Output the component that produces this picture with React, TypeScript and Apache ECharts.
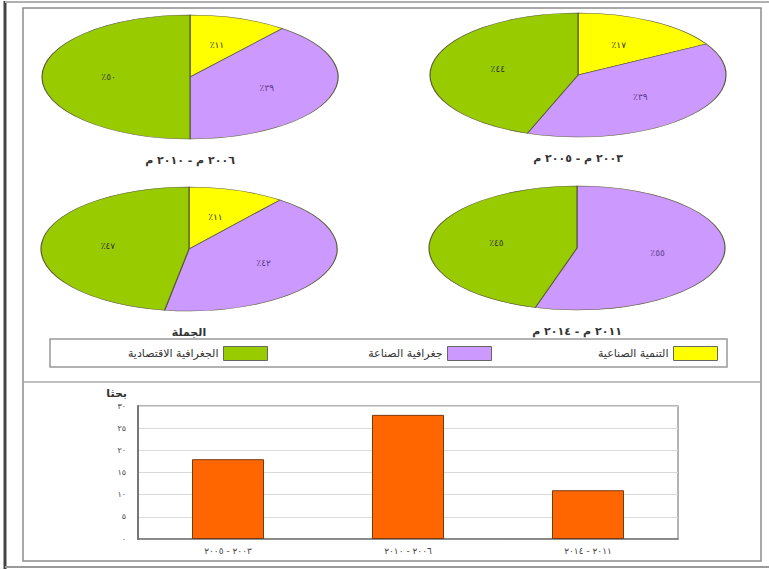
import React, { useEffect, useRef } from 'react';
import * as echarts from 'echarts';

// ---- data ----
const topics = ['التنمية الصناعية', 'جغرافية الصناعة', 'الجغرافية الاقتصادية'];
const topicColors = ['#FFFF00', '#CC99FF', '#99CC00'];
const pieTitles = ['٢٠٠٦ م - ٢٠١٠ م', '٢٠٠٣ م - ٢٠٠٥ م', 'الجملة', '٢٠١١ م - ٢٠١٤ م'];
// counts of research papers per pie (same order as pieTitles)
const industrialDevelopment = [3, 3, 6, 0];
const industrialGeography = [11, 7, 24, 6];
const economicGeography = [14, 8, 27, 5];

const barCategories = ['٢٠٠٣ - ٢٠٠٥', '٢٠٠٦ - ٢٠١٠', '٢٠١١ - ٢٠١٤'];
const barValues = [18, 28, 11];
const yAxisName = 'بحثا';

// ---- layout ----
const pieCenters = [
  [190, 77],
  [578, 75],
  [189, 249],
  [577, 248],
];
const pieRx = 148;
const pieRy = 62;
const titleOffset = 83;
const FONT = 'DejaVu Sans';

const toArabicDigits = (n: number | string) =>
  String(n).replace(/[0-9]/g, (d) => '٠١٢٣٤٥٦٧٨٩'[Number(d)]);

const topicCounts = [industrialDevelopment, industrialGeography, economicGeography];

function buildPieSeries(t: number) {
  const data = pieTitles.map((_, p) => {
    const counts = topicCounts.map((arr) => arr[p]);
    const total = counts.reduce((a, b) => a + b, 0);
    let before = 0;
    for (let i = 0; i < t; i++) before += counts[i];
    const start = before / total;
    const end = (before + counts[t]) / total;
    return [p, start, end, (counts[t] / total) * 100];
  });
  return {
    type: 'custom',
    name: topics[t],
    coordinateSystem: 'none',
    itemStyle: { color: topicColors[t] },
    data,
    renderItem: (params: any, api: any) => {
      const p = api.value(0);
      const s = api.value(1);
      const e = api.value(2);
      const pct = api.value(3);
      if (e - s <= 0) return { type: 'group', children: [] };
      const [cx, cy] = pieCenters[p];
      const a0 = -Math.PI / 2 + 2 * Math.PI * s;
      const a1 = -Math.PI / 2 + 2 * Math.PI * e;
      const mid = (a0 + a1) / 2;
      return {
        type: 'group',
        children: [
          {
            type: 'sector',
            x: cx,
            y: cy,
            scaleY: pieRy / pieRx,
            shape: { cx: 0, cy: 0, r: pieRx, r0: 0, startAngle: a0, endAngle: a1, clockwise: true },
            style: { fill: topicColors[t], stroke: '#5a5a3a', lineWidth: 1.2, strokeNoScale: true },
          },
          {
            type: 'text',
            x: cx + 0.55 * pieRx * Math.cos(mid),
            y: cy + 0.55 * pieRy * Math.sin(mid),
            style: {
              text: '٪' + toArabicDigits(Math.round(pct)),
              fill: t === 1 ? '#5b3a86' : '#333333',
              fontSize: 9,
              fontFamily: FONT,
              align: 'center',
              verticalAlign: 'middle',
            },
          },
        ],
      };
    },
  };
}

const legendIconRight = [718, 492, 268];

export default function App() {
  const ref = useRef<HTMLDivElement>(null);
  useEffect(() => {
    if (!ref.current) return;
    const chart = echarts.init(ref.current, null, { renderer: 'svg' });
    const option: any = {
      animation: false,
      backgroundColor: '#ffffff',
      textStyle: { fontFamily: FONT },
      legend: topics.map((name, i) => ({
        data: [name],
        right: 769 - legendIconRight[i],
        top: 346,
        align: 'right',
        orient: 'horizontal',
        padding: 0,
        icon: 'rect',
        itemWidth: 44,
        itemHeight: 14,
        itemStyle: { borderColor: '#666', borderWidth: 1 },
        textStyle: { fontSize: 11, color: '#333', fontFamily: FONT },
        selectedMode: false,
      })),
      grid: {
        left: 138,
        right: 91,
        top: 406,
        bottom: 31,
        show: true,
        borderColor: '#9a9a9a',
        borderWidth: 1.5,
        backgroundColor: 'transparent',
      },
      xAxis: {
        type: 'category',
        data: barCategories,
        axisLine: { show: true, lineStyle: { color: '#777', width: 1.5 } },
        axisTick: { show: false },
        axisLabel: { fontSize: 9, color: '#444', margin: 7, fontFamily: FONT },
      },
      yAxis: {
        type: 'value',
        min: 0,
        max: 30,
        interval: 5,
        name: yAxisName,
        nameLocation: 'end',
        nameGap: 7,
        nameTextStyle: {
          fontSize: 11,
          fontWeight: 'bold',
          color: '#333',
          align: 'right',
          verticalAlign: 'bottom',
          padding: [0, 11, 0, 0],
          fontFamily: FONT,
        },
        axisLine: { show: true, lineStyle: { color: '#777', width: 2 } },
        axisTick: { show: false },
        axisLabel: {
          fontSize: 8,
          color: '#444',
          margin: 12,
          fontFamily: FONT,
          formatter: (v: number) => toArabicDigits(v),
        },
        splitLine: { lineStyle: { color: '#d9d9d9', width: 1 } },
      },
      series: [
        ...topics.map((_, t) => buildPieSeries(t)),
        {
          type: 'bar',
          name: yAxisName,
          data: barValues,
          barWidth: '40%',
          itemStyle: { color: '#FF6600', borderColor: '#7a3a10', borderWidth: 1 },
        },
      ],
      graphic: [
        // outer frame
        { type: 'line', shape: { x1: 5, y1: 1, x2: 5, y2: 569 }, style: { stroke: '#444', lineWidth: 3 } },
        { type: 'line', shape: { x1: 5, y1: 2, x2: 769, y2: 2 }, style: { stroke: '#b0b0b0', lineWidth: 2 } },
        { type: 'line', shape: { x1: 5, y1: 567, x2: 769, y2: 567 }, style: { stroke: '#999', lineWidth: 2 } },
        // inner frame
        {
          type: 'rect',
          shape: { x: 23, y: 8, width: 738, height: 553 },
          style: { fill: 'none', stroke: '#8c8c8c', lineWidth: 1.5 },
        },
        // separator
        { type: 'line', shape: { x1: 23, y1: 382, x2: 761, y2: 382 }, style: { stroke: '#aaa', lineWidth: 1.5 } },
        // legend box
        {
          type: 'rect',
          shape: { x: 50, y: 339, width: 677, height: 28 },
          style: { fill: 'none', stroke: '#999', lineWidth: 1.5 },
        },
        // pie titles
        ...pieTitles.map((title, p) => ({
          type: 'text',
          x: pieCenters[p][0],
          y: pieCenters[p][1] + titleOffset,
          style: {
            text: title,
            fill: '#333',
            fontSize: 11,
            fontWeight: 'bold',
            fontFamily: FONT,
            align: 'center',
            verticalAlign: 'middle',
          },
        })),
      ],
    };
    chart.setOption(option);
    return () => chart.dispose();
  }, []);
  return (
    <div
      ref={ref}
      style={{ position: 'fixed', left: 0, top: 0, width: 769, height: 570, background: '#fff' }}
    />
  );
}
